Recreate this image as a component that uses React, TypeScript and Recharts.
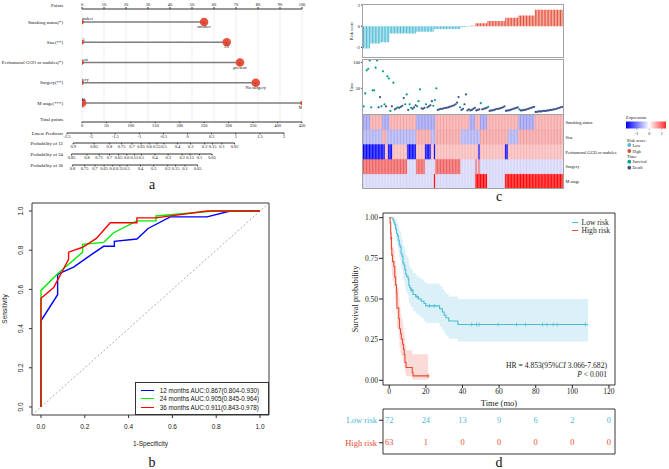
import React from 'react';
import {
  ComposedChart, BarChart, ScatterChart, LineChart,
  Line, Bar, Scatter, Area, Cell,
  XAxis, YAxis, ZAxis, CartesianGrid, ReferenceLine, ReferenceArea, Legend,
} from 'recharts';

const SERIF = '"Liberation Serif", "Times New Roman", Times, serif';
const SANS = '"Liberation Sans", Arial, Helvetica, sans-serif';

const RED = '#E64B35';
const CYAN = '#4DBBD5';
const TEAL = '#00A087';
const NAVY = '#3C5488';
const NOMO_DOT = '#E8432F';

/* ---------------- a: nomogram ---------------- */
const nomoVariables = ['Smoking status(*)', 'Size(**)', 'Peritumoral GGO or nodules(*)', 'Surgery(**)', 'M stage(***)'];
const nomoLevelNames = [['non-smoker', 'smoker'], ['<5', '\u22655'], ['absent', 'present'], ['surgery', 'No surgery'], ['M0', 'M1']];
const nomoLevelPoints = [[0, 55.5], [0, 65.8], [0, 71.8], [0, 79], [0, 100]];
const nomoLevelShare = [[0.2, 0.8], [0.2, 0.78], [0.2, 0.8], [0.19, 0.81], [0.83, 0.17]];
const pointTicks = [0, 10, 20, 30, 40, 50, 60, 70, 80, 90, 100];
const totalPointTicks = [0, 50, 100, 150, 200, 250, 300, 350, 400, 450];
const lpTicks = [-2.5, -2, -1.5, -1, -0.5, 0, 0.5, 1, 1.5, 2];
const prob12Ticks = [0.9, 0.85, 0.8, 0.75, 0.7, 0.65, 0.6, 0.55, 0.5, 0.4, 0.3, 0.2, 0.15, 0.1, 0.05];
const prob24Ticks = [0.85, 0.8, 0.75, 0.7, 0.65, 0.6, 0.55, 0.5, 0.4, 0.3, 0.2, 0.15, 0.1, 0.05];
const prob36Ticks = [0.8, 0.75, 0.7, 0.65, 0.6, 0.55, 0.5, 0.4, 0.3, 0.2, 0.15, 0.1, 0.05];
// baseline cumulative hazard of the Cox model at 12, 24 and 36 months
const baseCumHazard12 = 1.13;
const baseCumHazard24 = 1.8;
const baseCumHazard36 = 2.43;

/* ---------------- b: time-dependent ROC ---------------- */
const roc12Fpr = [0, 0, 0.076, 0.076, 0.1, 0.149, 0.225, 0.286, 0.335, 0.335, 0.438, 0.489, 0.59, 0.758, 0.864, 1];
const roc12Tpr = [0, 0.44, 0.573, 0.677, 0.69, 0.714, 0.774, 0.82, 0.82, 0.845, 0.857, 0.911, 0.97, 0.97, 1, 1];
const roc24Fpr = [0, 0, 0.076, 0.19, 0.19, 0.286, 0.33, 0.438, 0.525, 0.525, 0.79, 1];
const roc24Tpr = [0, 0.595, 0.68, 0.79, 0.83, 0.84, 0.888, 0.95, 0.95, 0.975, 1, 1];
const roc36Fpr = [0, 0, 0.058, 0.126, 0.126, 0.19, 0.253, 0.316, 0.438, 0.438, 0.525, 0.758, 1];
const roc36Tpr = [0, 0.555, 0.609, 0.754, 0.79, 0.815, 0.86, 0.94, 0.94, 0.965, 0.965, 1, 1];
const rocNames = [
  '12 months AUC:0.867(0.804-0.930)',
  '24 months AUC:0.905(0.845-0.964)',
  '36 months AUC:0.911(0.843-0.978)',
];
const rocTicks = [0, 0.2, 0.4, 0.6, 0.8, 1];

/* ---------------- c: risk score, survival status, factor heatmap ---------------- */
// patients sorted by risk score; the score takes few distinct values
const riskScoreLevels = [-2.1, -1.62, -1.5, -0.68, -0.53, -0.25, -0.1, -0.04, 0.05, 0.27, 0.5, 0.8, 1.02, 1.55];
const riskScoreCounts = [5, 7, 6, 18, 12, 18, 3, 3, 4, 8, 12, 9, 11, 19];

const survivalMonths = [
  15, 40, 85, 88, 104, 13, 46, 46, 90, 104,
  13, 33, 15, 83, 19, 15, 73, 69, 6, 15,
  61, 9, 11, 13, 12, 14, 16, 31, 19, 38,
  8, 19, 12, 10, 13, 17, 15, 25, 48, 11,
  10, 12, 19, 13, 15, 17, 25, 16, 27, 50,
  8, 9, 10, 10, 11, 12, 12, 13, 14, 15,
  16, 17, 19, 22, 33, 13, 8, 10, 19, 38,
  7, 9, 7, 8, 10, 12, 7, 8, 9, 21,
  9, 10, 11, 12, 14, 6, 7, 7, 8, 9,
  10, 10, 11, 12, 13, 15, 6, 7, 7, 8,
  9, 10, 11, 12, 13, 9, 7, 7, 8, 8,
  9, 10, 11, 12, 13, 14, 4, 4, 5, 5,
  5, 6, 6, 6, 7, 7, 8, 8, 9, 9,
  10, 11, 12, 13, 14,
];
// 1 = death, 0 = alive at last follow-up
const deathStatus = [
  0, 0, 0, 0, 0, 0, 0, 0, 0, 0,
  1, 1, 0, 0, 0, 1, 0, 0, 0, 1,
  0, 1, 1, 0, 1, 1, 1, 1, 0, 0,
  1, 0, 0, 1, 1, 1, 0, 0, 0, 1,
  1, 1, 0, 1, 1, 1, 1, 0, 0, 0,
  1, 1, 1, 1, 1, 1, 1, 1, 1, 1,
  1, 1, 1, 1, 1, 0, 1, 1, 1, 1,
  1, 1, 1, 1, 1, 1, 1, 1, 1, 0,
  1, 1, 1, 1, 0, 1, 1, 1, 1, 1,
  1, 1, 1, 1, 1, 1, 1, 1, 1, 1,
  1, 1, 1, 1, 1, 0, 1, 1, 1, 1,
  1, 1, 1, 1, 1, 1, 1, 1, 1, 1,
  1, 1, 1, 1, 1, 1, 1, 1, 1, 1,
  1, 1, 1, 1, 1,
];

// factor levels along the sorted patients, as (level, run length)
const smokingCodes = [0, 1, 0, 1, 0, 1, 0, 1, 0, 1, 0, 1];
const smokingCounts = [5, 8, 5, 18, 13, 23, 4, 3, 5, 21, 11, 19];
const sizeCodes = [0, 1, 0, 1, 0, 1, 0, 1, 0, 1];
const sizeCounts = [13, 3, 20, 10, 3, 17, 13, 19, 7, 30];
const ggoCodes = [0, 1, 0, 1, 0, 1, 0, 1, 0, 1, 0, 1, 0, 1];
const ggoCounts = [15, 2, 3, 10, 6, 6, 4, 2, 1, 29, 1, 17, 2, 37];
const surgeryCodes = [1, 0, 1, 0, 1, 0, 1, 0, 1, 0];
const surgeryCounts = [30, 6, 6, 7, 17, 10, 1, 1, 1, 56];
const mStageCodes = [0, 1, 0, 1, 0, 1];
const mStageCounts = [48, 1, 27, 8, 12, 39];
const heatFactorNames = ['Smoking status', 'Size', 'Peritumoral GGO or nodules', 'Surgery', 'M stage'];

/* ---------------- d: Kaplan-Meier by risk group ---------------- */
const lowRiskTime = [0, 2, 2.5, 3, 3.5, 4, 4.5, 5, 5.5, 6, 6.5, 7, 7.5, 8, 8.5, 9, 9.5, 10.3, 10.7, 11.2, 11.8, 13, 14.5, 16, 17.5, 19, 20, 27.5, 29, 30, 31, 32.5, 37.5, 108.6];
const lowRiskSurv = [1, 0.986, 0.972, 0.958, 0.931, 0.903, 0.889, 0.861, 0.833, 0.819, 0.778, 0.764, 0.722, 0.708, 0.681, 0.653, 0.639, 0.625, 0.583, 0.569, 0.555, 0.528, 0.514, 0.5, 0.486, 0.472, 0.458, 0.44, 0.42, 0.4, 0.385, 0.365, 0.343, 0.343];
const lowRiskLower = [1, 0.96, 0.935, 0.912, 0.875, 0.84, 0.82, 0.785, 0.75, 0.735, 0.69, 0.67, 0.625, 0.61, 0.58, 0.55, 0.535, 0.52, 0.48, 0.465, 0.45, 0.425, 0.41, 0.395, 0.38, 0.365, 0.352, 0.33, 0.31, 0.29, 0.275, 0.255, 0.238, 0.238];
const lowRiskUpper = [1, 1, 1, 1, 0.99, 0.975, 0.965, 0.945, 0.925, 0.915, 0.88, 0.865, 0.83, 0.82, 0.795, 0.77, 0.76, 0.75, 0.71, 0.695, 0.685, 0.66, 0.645, 0.63, 0.62, 0.605, 0.595, 0.58, 0.56, 0.545, 0.53, 0.515, 0.5, 0.5];
const lowRiskCensored = [12.2, 15.2, 22, 24.6, 45, 47.7, 49.1, 59.5, 69.5, 74.4, 83.7, 86.2, 89.5, 91.7, 107.1];

const highRiskTime = [0, 0.5, 0.8, 1, 1.2, 1.4, 1.8, 2.5, 3, 3.5, 4, 4.2, 5.2, 5.6, 6.2, 6.6, 7.3, 7.8, 8.2, 8.6, 9.2, 12.6, 13, 21.3];
const highRiskSurv = [1, 0.968, 0.905, 0.873, 0.81, 0.77, 0.73, 0.7, 0.635, 0.587, 0.54, 0.444, 0.38, 0.317, 0.286, 0.254, 0.222, 0.19, 0.159, 0.111, 0.079, 0.048, 0.027, 0.027];
const highRiskLower = [1, 0.89, 0.8, 0.77, 0.7, 0.65, 0.61, 0.57, 0.5, 0.46, 0.41, 0.32, 0.26, 0.2, 0.17, 0.15, 0.12, 0.1, 0.08, 0.045, 0.025, 0.01, 0.003, 0.003];
const highRiskUpper = [1, 0.995, 0.96, 0.94, 0.89, 0.86, 0.82, 0.8, 0.74, 0.7, 0.66, 0.57, 0.51, 0.45, 0.41, 0.38, 0.34, 0.3, 0.27, 0.22, 0.185, 0.16, 0.16, 0.16];
const highRiskCensored = [1.1, 21.3];

const riskGroups = ['Low risk', 'High risk'];
const atRiskTimes = [0, 20, 40, 60, 80, 100, 120];
const lowAtRisk = [72, 24, 13, 9, 6, 2, 0];
const highAtRisk = [63, 1, 0, 0, 0, 0, 0];
const kmTimeTicks = [0, 20, 40, 60, 80, 100, 120];
const kmSurvTicks = [0, 0.25, 0.5, 0.75, 1];

/* ---------------- helpers ---------------- */
const EmptyShape = () => <g />;

const expandRuns = (levels: number[], counts: number[]) =>
  levels.flatMap((v, i) => Array(counts[i]).fill(v));

function Frame({ x, y, w, h, color = '#a3a3a3', width = 1.4 }: any) {
  return (
    <div
      style={{
        position: 'absolute', left: x - width / 2, top: y - width / 2,
        width: w + width, height: h + width, border: `${width}px solid ${color}`,
        boxSizing: 'border-box', pointerEvents: 'none',
      }}
    />
  );
}

function PanelLetter({ x, y, text }: any) {
  return (
    <div
      style={{
        position: 'absolute', left: x - 10, top: y - 10, width: 20, height: 20,
        lineHeight: '20px', textAlign: 'center', fontFamily: SERIF, fontSize: 14, color: '#111',
      }}
    >
      {text}
    </div>
  );
}

// single-line axis label (no wrapping), anchored like the axis' own ticks
function makeFlatTick(names: (v: number) => string, size: number, anchor: 'start' | 'end') {
  return function FlatTick({ x, y, payload }: any) {
    return (
      <text
        x={x} y={y} textAnchor={anchor} dominantBaseline="central"
        fontSize={size} fontFamily={SERIF} fill="#111"
      >
        {names(payload.value)}
      </text>
    );
  };
}

/* ---------------- panel a ---------------- */
const PTS_X0 = 82;
const LP_X0 = 67;
const LP_X1 = 284;
const lpToPx = (lp: number) => LP_X0 + ((lp + 2.5) / 4.5) * (LP_X1 - LP_X0);
const lpOfProb = (p: number, cumHaz: number) => Math.log(-Math.log(p)) - Math.log(cumHaz);

const nomoRows = nomoVariables.map((name, r) => ({
  name,
  points: nomoLevelNames[r].map((level, k) => ({
    x: nomoLevelPoints[r][k],
    y: r + 1,
    z: nomoLevelShare[r][k],
    level,
    side: k === 0 ? 'above' : 'below',
  })),
}));

function NomoPoint(props: any) {
  const { cx, cy, payload } = props;
  const r = props.width ? props.width / 2 : Math.sqrt((props.size || 30) / Math.PI);
  const above = payload.side === 'above';
  return (
    <g>
      <circle cx={cx} cy={cy} r={r} fill={NOMO_DOT} fillOpacity={0.92} />
      <line x1={cx} y1={cy} x2={cx} y2={cy + 2.4} stroke="#333" strokeWidth={0.5} />
      <text
        x={cx} y={above ? cy - 1.6 : cy + 6}
        textAnchor="middle" fontSize={4.6} fontFamily={SERIF} fill="#111"
      >
        {payload.level}
      </text>
    </g>
  );
}

const NomoRowTick = makeFlatTick((v) => nomoVariables[Math.round(v) - 1], 4.8, 'end');
const nomoTick = { fontSize: 4.4, fill: '#111', fontFamily: SERIF };
const nomoTitle = { fontSize: 4.8, fill: '#111', fontFamily: SERIF };

function NomoAxis({ title, values, labels, lineY }: any) {
  const x0 = lpToPx(values[0]);
  const x1 = lpToPx(values[values.length - 1]);
  const padL = x0 - 25;
  const padR = 12;
  const rows = values.map((v: number) => ({ v, y: 0 }));
  const labelOf = (v: number) => {
    const k = values.findIndex((u: number) => Math.abs(u - v) < 1e-9);
    return k >= 0 ? labels[k] : '';
  };
  return (
    <div style={{ position: 'absolute', left: 25, top: lineY - 1 }}>
      <ComposedChart width={padL + (x1 - x0) + padR} height={10} data={rows} margin={{ top: 0, right: padR, bottom: 0, left: padL }}>
        <XAxis
          type="number" dataKey="v" domain={[values[0], values[values.length - 1]]}
          ticks={values} interval={0} allowDataOverflow height={9}
          tickSize={1.4} tickMargin={0.4} stroke="#333" tick={nomoTick}
          tickFormatter={(v: number) => labelOf(v)}
          label={{ value: title, position: 'left', offset: x0 - 63, dy: -4.6, ...nomoTitle }}
        />
        <YAxis hide domain={[0, 1]} />
        <Scatter dataKey="y" shape={EmptyShape} isAnimationActive={false} />
      </ComposedChart>
    </div>
  );
}

function NomogramPanel() {
  return (
    <>
      <div style={{ position: 'absolute', left: 0, top: 0 }}>
        <ComposedChart width={312} height={132} margin={{ top: 0, right: 10, bottom: 0, left: 0 }}>
          <CartesianGrid xAxisId="pts" horizontal={false} stroke="#e4e4e4" strokeWidth={0.6} />
          <XAxis
            xAxisId="pts" orientation="top" type="number" dataKey="x" domain={[0, 100]}
            ticks={pointTicks} interval={0} allowDataOverflow height={9}
            tickSize={2} tickMargin={0.8} stroke="#333" tick={nomoTick}
            label={{ value: 'Points', position: 'left', offset: PTS_X0 - 63, dy: 1.2, ...nomoTitle }}
          />
          <XAxis
            xAxisId="tot" orientation="bottom" type="number" dataKey="x" domain={[0, 450]}
            ticks={totalPointTicks} interval={0} allowDataOverflow height={10}
            tickSize={1.2} tickMargin={0.3} stroke="#333" tick={nomoTick}
            label={{ value: 'Total points', position: 'left', offset: PTS_X0 - 63, dy: -8, ...nomoTitle }}
          />
          <YAxis
            type="number" dataKey="y" domain={[0.358, 5.936]} reversed allowDataOverflow
            ticks={[1, 2, 3, 4, 5]} interval={0} width={PTS_X0}
            axisLine={false} tickLine={false} tickSize={0} tickMargin={PTS_X0 - 63}
            tick={<NomoRowTick />}
          />
          <ZAxis type="number" dataKey="z" domain={[0, 1]} range={[0, 72]} />
          {nomoRows.map((row) => (
            <Scatter
              key={row.name} name={row.name} xAxisId="pts" data={row.points}
              line={{ stroke: '#7d7d7d', strokeWidth: 1.4 }} lineType="joint"
              shape={NomoPoint} isAnimationActive={false}
            />
          ))}
          <Scatter
            xAxisId="tot" data={totalPointTicks.map((v) => ({ x: v, y: 5.9, z: 0 }))}
            shape={EmptyShape} isAnimationActive={false}
          />
        </ComposedChart>
      </div>
      <NomoAxis title="Linear Predictor" values={lpTicks} labels={lpTicks.map(String)} lineY={133.3} />
      <NomoAxis
        title="Probability of 12" values={prob12Ticks.map((p) => lpOfProb(p, baseCumHazard12))}
        labels={prob12Ticks.map(String)} lineY={143.3}
      />
      <NomoAxis
        title="Probability of 24" values={prob24Ticks.map((p) => lpOfProb(p, baseCumHazard24))}
        labels={prob24Ticks.map(String)} lineY={154.3}
      />
      <NomoAxis
        title="Probability of 36" values={prob36Ticks.map((p) => lpOfProb(p, baseCumHazard36))}
        labels={prob36Ticks.map(String)} lineY={165}
      />
    </>
  );
}

/* ---------------- panel b ---------------- */
const toRoc = (fpr: number[], tpr: number[]) => fpr.map((f, i) => ({ fpr: f, tpr: tpr[i] }));
const rocSeries = [
  { name: rocNames[0], color: '#0000FF', data: toRoc(roc12Fpr, roc12Tpr) },
  { name: rocNames[1], color: '#00EE00', data: toRoc(roc24Fpr, roc24Tpr) },
  { name: rocNames[2], color: '#FF0000', data: toRoc(roc36Fpr, roc36Tpr) },
];
const ROC_LO = -0.041;
const ROC_HI = 1.041;

function RocYTick({ x, y, payload }: any) {
  const bx = x - 4;
  return (
    <text x={bx} y={y} transform={`rotate(-90 ${bx} ${y})`} textAnchor="middle" fontSize={6.5} fontFamily={SANS} fill="#222">
      {Number(payload.value).toFixed(1)}
    </text>
  );
}

function RocLegend({ payload }: any) {
  const items = rocNames
    .map((n) => (payload || []).find((p: any) => p.value === n))
    .filter(Boolean);
  return (
    <div
      style={{
        width: 134, height: 33.3, boxSizing: 'border-box', border: '1px solid #333', background: '#fff',
        padding: '3.5px 0 0 5.5px', fontFamily: SANS, fontSize: 6.3, color: '#111',
      }}
    >
      {items.map((p: any) => (
        <div key={p.value} style={{ display: 'flex', alignItems: 'center', height: 8.5, whiteSpace: 'nowrap' }}>
          <span style={{ display: 'inline-block', width: 12.6, borderTop: `1.5px solid ${p.color}`, marginRight: 6 }} />
          <span>{p.value}</span>
        </div>
      ))}
    </div>
  );
}

function RocPanel() {
  return (
    <div style={{ position: 'absolute', left: 0, top: 195 }}>
      <LineChart width={275} height={255} margin={{ top: 8, right: 6, bottom: 0, left: 0 }}>
        <XAxis
          type="number" dataKey="fpr" domain={[ROC_LO, ROC_HI]} allowDataOverflow
          ticks={rocTicks} interval={0} height={35} axisLine={false}
          tickSize={3} tickMargin={6} stroke="#333"
          tickFormatter={(v: number) => v.toFixed(1)}
          tick={{ fontSize: 6.5, fill: '#222', fontFamily: SANS }}
          label={{ value: '1-Specificity', position: 'center', dy: 11.5, fontSize: 6.5, fill: '#222', fontFamily: SANS }}
        />
        <YAxis
          type="number" dataKey="tpr" domain={[ROC_LO, ROC_HI]} allowDataOverflow
          ticks={rocTicks} interval={0} width={32} axisLine={false}
          tickSize={3} tickMargin={2} stroke="#333" tick={<RocYTick />}
          label={{ value: 'Sensitivity', angle: -90, position: 'center', dx: -11, fontSize: 6.5, fill: '#222', fontFamily: SANS }}
        />
        <ReferenceArea
          x1={ROC_LO} x2={ROC_HI} y1={ROC_LO} y2={ROC_HI}
          fill="none" stroke="#222" strokeWidth={0.9} ifOverflow="visible"
        />
        <ReferenceLine
          segment={[{ x: ROC_LO, y: ROC_LO }, { x: ROC_HI, y: ROC_HI }]}
          stroke="#8a8a8a" strokeWidth={0.7} strokeDasharray="2 2" ifOverflow="visible"
        />
        {rocSeries.map((s) => (
          <Line
            key={s.name} name={s.name} data={s.data} dataKey="tpr" type="linear"
            stroke={s.color} strokeWidth={1.4} dot={false} isAnimationActive={false}
          />
        ))}
        <Legend
          layout="vertical" align="center" verticalAlign="middle" content={<RocLegend />}
          wrapperStyle={{ left: 134.7, top: 186.7, width: 134, height: 33.3 }}
        />
      </LineChart>
    </div>
  );
}

/* ---------------- panel c ---------------- */
const C_X0 = 363;
const C_W = 200;

const riskScores = expandRuns(riskScoreLevels, riskScoreCounts);
const riskRows = riskScores.map((risk, i) => ({ i, risk }));
const timeRows = survivalMonths.map((t, i) => ({ i, t, dead: deathStatus[i] }));
const aliveRows = timeRows.filter((r) => r.dead === 0);
const deadRows = timeRows.filter((r) => r.dead === 1);

const heatFactors = [
  { key: 'smoking', codes: expandRuns(smokingCodes, smokingCounts), colors: ['#9C9CF0', '#F6A6A6'] },
  { key: 'size', codes: expandRuns(sizeCodes, sizeCounts), colors: ['#AEAEF2', '#F49E9E'] },
  { key: 'ggo', codes: expandRuns(ggoCodes, ggoCounts), colors: ['#0000FF', '#F9B8B8'] },
  { key: 'surgery', codes: expandRuns(surgeryCodes, surgeryCounts), colors: ['#D5D5F8', '#F05E5E'] },
  { key: 'mstage', codes: expandRuns(mStageCodes, mStageCounts), colors: ['#D5D5F8', '#FF0000'] },
];
const heatRows = riskScores.map((_, i) => ({ i, smoking: 1, size: 1, ggo: 1, surgery: 1, mstage: 1 }));
const HeatRowTick = makeFlatTick((v) => heatFactorNames[Math.floor(v)], 4.4, 'start');

const cTick = { fontSize: 4.6, fill: '#222', fontFamily: SERIF };
const cTitle = { fontSize: 4.4, fill: '#222', fontFamily: SERIF };

const SmallDot = (props: any) => <circle cx={props.cx} cy={props.cy} r={1.1} fill={props.fill} />;

function ExpressionLegend() {
  return (
    <svg width={49} height={64} style={{ position: 'absolute', left: 620, top: 110 }}>
      <defs>
        <linearGradient id="exprGrad" x1="0" x2="1" y1="0" y2="0">
          <stop offset="0" stopColor="#0000FF" />
          <stop offset="0.58" stopColor="#FFFFFF" />
          <stop offset="1" stopColor="#FF2A2A" />
        </linearGradient>
      </defs>
      <g fontFamily={SERIF} fill="#222">
        <text x={6} y={9.3} fontSize={4.6}>Expression</text>
        <rect x={6} y={11.5} width={40} height={7} fill="url(#exprGrad)" />
        {[16.7, 29.3, 41.7].map((x) => (
          <line key={x} x1={x} x2={x} y1={18.5} y2={20} stroke="#444" strokeWidth={0.4} />
        ))}
        <text x={16.7} y={24.8} fontSize={4.2} textAnchor="middle">-1</text>
        <text x={29.3} y={24.8} fontSize={4.2} textAnchor="middle">0</text>
        <text x={41.7} y={24.8} fontSize={4.2} textAnchor="middle">1</text>
        <text x={7} y={31.5} fontSize={4.4}>Risk score:</text>
        <circle cx={9.3} cy={35} r={1.9} fill={CYAN} />
        <text x={12.5} y={36.5} fontSize={4.2}>Low</text>
        <circle cx={9.3} cy={41} r={1.9} fill={RED} />
        <text x={12.5} y={42.5} fontSize={4.2}>High</text>
        <text x={7} y={48} fontSize={4.4}>Time:</text>
        <circle cx={9.3} cy={51.7} r={1.9} fill={TEAL} />
        <text x={12.5} y={53.2} fontSize={4.2}>Survival</text>
        <circle cx={9.3} cy={57.7} r={1.9} fill={NAVY} />
        <text x={12.5} y={59.2} fontSize={4.2}>Death</text>
      </g>
    </svg>
  );
}

function RiskPanel() {
  return (
    <>
      <div style={{ position: 'absolute', left: C_X0 - 15, top: 3 }}>
        <BarChart width={15 + C_W + 2} height={56} data={riskRows} margin={{ top: 2, right: 2, bottom: 2, left: 0 }} barCategoryGap={0} barGap={0}>
          <XAxis dataKey="i" hide />
          <YAxis
            type="number" domain={[-2.9, 2]} allowDataOverflow ticks={[-2, 0, 2]} interval={0}
            width={15} tickSize={2} tickMargin={1} axisLine={false} stroke="#444" tick={cTick}
            label={{ value: 'Risk score', angle: -90, position: 'center', dx: -4, ...cTitle }}
          />
          <Bar dataKey="risk" isAnimationActive={false}>
            {riskRows.map((r) => (
              <Cell key={r.i} fill={r.risk < 0 ? CYAN : RED} />
            ))}
          </Bar>
        </BarChart>
      </div>
      <Frame x={C_X0} y={5} w={C_W} h={52} />

      <div style={{ position: 'absolute', left: C_X0 - 15, top: 58 }}>
        <ScatterChart width={15 + C_W + 2} height={58} margin={{ top: 2, right: 2, bottom: 2, left: 0 }}>
          <XAxis type="number" dataKey="i" domain={[-0.5, riskRows.length - 0.5]} allowDataOverflow hide />
          <YAxis
            type="number" dataKey="t" domain={[0, 105]} allowDataOverflow ticks={[50, 100]} interval={0}
            width={15} tickSize={2} tickMargin={1} axisLine={false} stroke="#444" tick={cTick}
            label={{ value: 'Time', angle: -90, position: 'center', dx: -4, ...cTitle }}
          />
          <Scatter name="Survival" data={aliveRows} fill={TEAL} shape={SmallDot} isAnimationActive={false} />
          <Scatter name="Death" data={deadRows} fill={NAVY} shape={SmallDot} isAnimationActive={false} />
        </ScatterChart>
      </div>
      <Frame x={C_X0} y={60} w={C_W} h={54} />

      <div style={{ position: 'absolute', left: C_X0 - 2, top: 112.5 }}>
        <BarChart width={2 + C_W + 80} height={78} data={heatRows} margin={{ top: 2, right: 0, bottom: 2, left: 2 }} barCategoryGap={0} barGap={0}>
          <XAxis dataKey="i" hide />
          <YAxis
            orientation="right" type="number" domain={[0, 5]} reversed allowDataOverflow
            ticks={[0.5, 1.5, 2.5, 3.5, 4.5]} interval={0} width={80}
            axisLine={false} tickLine={false} tickSize={0} tickMargin={2.5}
            tick={<HeatRowTick />}
          />
          {heatFactors.map((f) => (
            <Bar key={f.key} dataKey={f.key} stackId="heat" isAnimationActive={false}>
              {f.codes.map((c: number, i: number) => (
                <Cell key={i} fill={f.colors[c]} stroke={f.colors[c]} strokeWidth={0.35} />
              ))}
            </Bar>
          ))}
        </BarChart>
      </div>
      <Frame x={C_X0} y={114.5} w={C_W} h={74} />
      <ExpressionLegend />
    </>
  );
}

/* ---------------- panel d ---------------- */
const KM_X_LO = -3.4;
const KM_X_HI = 123.3;
const KM_Y_LO = -0.029;
const KM_Y_HI = 1.029;

const kmRows = (t: number[], s: number[], lo: number[], hi: number[]) =>
  t.map((time, i) => ({ t: time, s: s[i], ci: [lo[i], hi[i]] }));
const kmLowRows = kmRows(lowRiskTime, lowRiskSurv, lowRiskLower, lowRiskUpper);
const kmHighRows = kmRows(highRiskTime, highRiskSurv, highRiskLower, highRiskUpper);

// survival estimate in force at time t (step function lookup)
const survAt = (times: number[], surv: number[], t: number) => {
  let k = 0;
  for (let i = 0; i < times.length; i += 1) if (times[i] <= t) k = i;
  return surv[k];
};
const lowCensorRows = lowRiskCensored.map((t) => ({ t, s: survAt(lowRiskTime, lowRiskSurv, t) }));
const highCensorRows = highRiskCensored.map((t) => ({ t, s: survAt(highRiskTime, highRiskSurv, t) }));

const PlusMark = (props: any) => (
  <g stroke={props.fill} strokeWidth={0.7}>
    <line x1={props.cx} x2={props.cx} y1={props.cy - 2} y2={props.cy + 2} />
    <line x1={props.cx - 1.3} x2={props.cx + 1.3} y1={props.cy} y2={props.cy} />
  </g>
);

function KmLegend({ payload }: any) {
  const items = riskGroups
    .map((g) => (payload || []).find((p: any) => p.value === g))
    .filter(Boolean);
  return (
    <div style={{ fontFamily: SERIF, fontSize: 7.6, color: '#222' }}>
      {items.map((p: any) => (
        <div key={p.value} style={{ display: 'flex', alignItems: 'center', height: 8, whiteSpace: 'nowrap' }}>
          <span style={{ display: 'inline-block', width: 6.5, borderTop: `1.3px solid ${p.color}`, marginRight: 3.5 }} />
          <span>{p.value}</span>
        </div>
      ))}
    </div>
  );
}

const atRiskRow = (counts: number[], row: number) =>
  atRiskTimes.map((t, i) => ({ t, row, n: counts[i] }));

const CountText = (props: any) => (
  <text
    x={props.cx} y={props.cy} textAnchor="middle" dominantBaseline="central"
    fontSize={8.4} fontFamily={SERIF} fill={props.fill}
  >
    {props.payload.n}
  </text>
);

function TableTick({ x, y, payload }: any) {
  const low = payload.value < 1;
  return (
    <text
      x={x} y={y} textAnchor="end" dominantBaseline="central"
      fontSize={8.5} fontFamily={SERIF} fill={low ? CYAN : RED}
    >
      {low ? riskGroups[0] : riskGroups[1]}
    </text>
  );
}

const kmTick = { fontSize: 7.5, fill: '#222', fontFamily: SERIF };

function SurvivalPanel() {
  return (
    <>
      <div style={{ position: 'absolute', left: 340, top: 205 }}>
        <ComposedChart width={285} height={205} margin={{ top: 8, right: 10, bottom: 0, left: 0 }}>
          <XAxis
            type="number" dataKey="t" domain={[KM_X_LO, KM_X_HI]} allowDataOverflow
            ticks={kmTimeTicks} interval={0} height={25} axisLine={false}
            tickSize={3} tickMargin={1} stroke="#222" tick={kmTick}
            label={{ value: 'Time (mo)', position: 'center', dy: 5.5, fontSize: 8.5, fill: '#222', fontFamily: SERIF }}
          />
          <YAxis
            type="number" domain={[KM_Y_LO, KM_Y_HI]} allowDataOverflow
            ticks={kmSurvTicks} interval={0} width={43} axisLine={false}
            tickSize={4} tickMargin={1} stroke="#222" tick={kmTick}
            tickFormatter={(v: number) => v.toFixed(2)}
            label={{ value: 'Survival probability', angle: -90, position: 'center', dx: -6, fontSize: 8.3, fill: '#222', fontFamily: SERIF }}
          />
          <Area
            name="Low risk CI" data={kmLowRows} dataKey="ci" type="stepAfter" stroke="none"
            fill={CYAN} fillOpacity={0.2} legendType="none" isAnimationActive={false}
          />
          <Area
            name="High risk CI" data={kmHighRows} dataKey="ci" type="stepAfter" stroke="none"
            fill={RED} fillOpacity={0.2} legendType="none" isAnimationActive={false}
          />
          <Line
            name={riskGroups[0]} data={kmLowRows} dataKey="s" type="stepAfter"
            stroke={CYAN} strokeWidth={1.1} dot={false} isAnimationActive={false}
          />
          <Line
            name={riskGroups[1]} data={kmHighRows} dataKey="s" type="stepAfter"
            stroke={RED} strokeWidth={1.1} dot={false} isAnimationActive={false}
          />
          <Scatter name="Low censored" data={lowCensorRows} dataKey="s" fill={CYAN} shape={PlusMark} legendType="none" isAnimationActive={false} />
          <Scatter name="High censored" data={highCensorRows} dataKey="s" fill={RED} shape={PlusMark} legendType="none" isAnimationActive={false} />
          <ReferenceArea
            x1={KM_X_LO} x2={KM_X_HI} y1={KM_Y_LO} y2={KM_Y_HI}
            fill="none" stroke="#222" strokeWidth={0.9} ifOverflow="visible"
          />
          <Legend
            layout="vertical" align="center" verticalAlign="middle" content={<KmLegend />}
            wrapperStyle={{ left: 231.5, top: 13.3, width: 50 }}
          />
        </ComposedChart>
      </div>
      <div
        style={{
          position: 'absolute', left: 470, top: 361, width: 137, textAlign: 'right',
          fontFamily: SERIF, fontSize: 7.6, lineHeight: '10px', whiteSpace: 'nowrap', color: '#222',
        }}
      >
        HR = 4.853(95%<i>CI</i> 3.066-7.682)
      </div>
      <div
        style={{
          position: 'absolute', left: 470, top: 370, width: 137, textAlign: 'right',
          fontFamily: SERIF, fontSize: 7.6, lineHeight: '10px', whiteSpace: 'nowrap', color: '#222',
        }}
      >
        <i>P</i> &lt; 0.001
      </div>

      <div style={{ position: 'absolute', left: 340, top: 405 }}>
        <ScatterChart width={285} height={52} margin={{ top: 4, right: 10, bottom: 3, left: 0 }}>
          <XAxis type="number" dataKey="t" domain={[KM_X_LO, KM_X_HI]} allowDataOverflow hide />
          <YAxis
            type="number" dataKey="row" domain={[0, 2]} reversed allowDataOverflow
            ticks={[0.5, 1.5]} interval={0} width={43} axisLine={false}
            tickSize={4} tickMargin={2} stroke="#222" tick={<TableTick />}
          />
          <ReferenceArea
            x1={KM_X_LO} x2={KM_X_HI} y1={0} y2={2}
            fill="none" stroke="#222" strokeWidth={0.9} ifOverflow="visible"
          />
          <Scatter name={riskGroups[0]} data={atRiskRow(lowAtRisk, 0.5)} fill={CYAN} shape={CountText} isAnimationActive={false} />
          <Scatter name={riskGroups[1]} data={atRiskRow(highAtRisk, 1.5)} fill={RED} shape={CountText} isAnimationActive={false} />
        </ScatterChart>
      </div>
    </>
  );
}

export default function App() {
  return (
    <div
      style={{
        position: 'absolute', left: 0, top: 0, width: 669, height: 469,
        background: '#fff', overflow: 'hidden', fontFamily: SERIF,
      }}
    >
      <NomogramPanel />
      <RocPanel />
      <RiskPanel />
      <SurvivalPanel />
      <PanelLetter x={152} y={185} text="a" />
      <PanelLetter x={152} y={463} text="b" />
      <PanelLetter x={499} y={197} text="c" />
      <PanelLetter x={499} y={463} text="d" />
    </div>
  );
}
